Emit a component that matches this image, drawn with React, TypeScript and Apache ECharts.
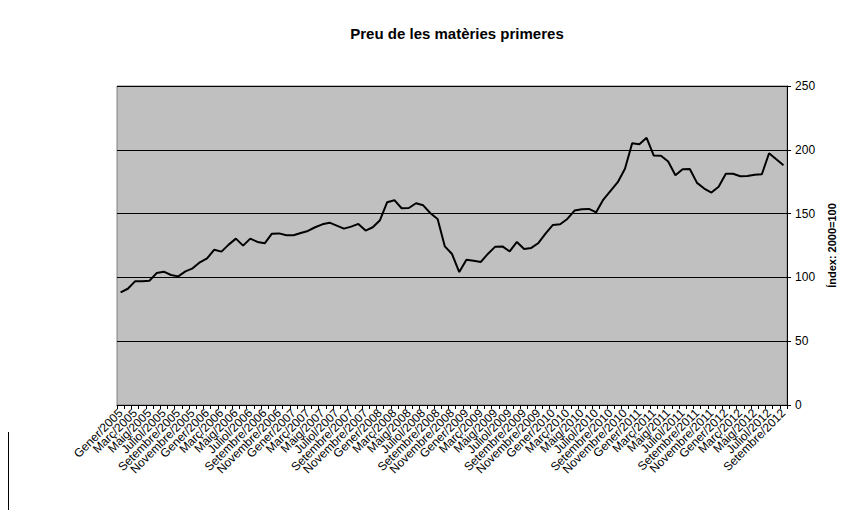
import React, { useEffect, useRef } from "react";
import * as echarts from "echarts";

const monthNames = ["Gener", "Febrer", "Març", "Abril", "Maig", "Juny", "Juliol", "Agost", "Setembre", "Octubre", "Novembre", "Desembre"];
const years = [2005, 2006, 2007, 2008, 2009, 2010, 2011, 2012];
const categories: string[] = [];
years.forEach((y) => monthNames.forEach((m, i) => {
  if (y < 2012 || i <= 8) categories.push(m + "/" + y);
}));

const values = [
  88.2, 91.1, 96.9, 96.9, 97.4, 103.4, 104.5, 101.9, 100.8, 104.7, 107.1, 111.8,
  114.9, 121.7, 120.2, 125.7, 130.4, 124.9, 130.4, 127.8, 126.7, 134.3, 134.5, 133.0,
  133.0, 134.8, 136.4, 139.3, 141.6, 142.9, 140.6, 138.2, 139.8, 141.9, 136.7, 139.3,
  144.8, 158.9, 160.5, 154.2, 154.4, 158.1, 156.5, 150.3, 145.8, 124.3, 118.3, 104.2,
  113.9, 113.1, 112.1, 118.6, 124.1, 124.3, 120.4, 127.8, 122.3, 123.1, 127.0, 134.5,
  141.1, 141.6, 145.8, 152.4, 153.4, 153.7, 151.0, 161.0, 167.8, 174.6, 185.1, 205.2,
  204.4, 209.4, 195.5, 195.3, 190.8, 180.1, 184.8, 185.0, 174.1, 169.6, 166.5, 171.0,
  181.2, 181.2, 179.3, 179.5, 180.4, 180.8, 197.3, 192.6, 187.9,
];

const yTicks = { min: 0, max: 250, interval: 50 };

const FONT = "Liberation Sans, Arial, sans-serif";

export default function App() {
  const ref = useRef<HTMLDivElement>(null);
  useEffect(() => {
    document.body.style.margin = "0";
    const chart = echarts.init(ref.current!, null, { renderer: "svg" });
    chart.setOption({
      animation: false,
      backgroundColor: "#ffffff",
      textStyle: { fontFamily: FONT },
      title: {
        text: "Preu de les matèries primeres",
        left: 452,
        top: 21,
        textAlign: "center",
        textStyle: { fontSize: 15, fontWeight: "bold", color: "#000", fontFamily: FONT },
      },
      grid: {
        left: 117,
        right: 55,
        top: 86,
        height: 319,
        show: true,
        backgroundColor: "#c0c0c0",
        borderColor: "#808080",
        borderWidth: 1,
      },
      xAxis: {
        type: "category",
        data: categories,
        boundaryGap: true,
        axisLine: { show: true, lineStyle: { color: "#000", width: 1 } },
        axisTick: { show: true, interval: 0, length: 4, lineStyle: { color: "#000" } },
        axisLabel: {
          interval: 0,
          rotate: 45,
          fontSize: 12,
          color: "#000",
          margin: 6,
          hideOverlap: false,
          fontFamily: FONT,
          formatter: (v: string, i: number) => (i % 2 === 0 ? v : ""),
        },
        splitLine: { show: false },
      },
      yAxis: {
        type: "value",
        position: "right",
        min: yTicks.min,
        max: yTicks.max,
        interval: yTicks.interval,
        name: "Índex: 2000=100",
        nameLocation: "middle",
        nameRotate: 90,
        nameGap: 25,
        nameTextStyle: { fontSize: 11, fontWeight: "bold", color: "#000", fontFamily: FONT },
        axisLine: { show: true, lineStyle: { color: "#000", width: 1 } },
        axisTick: { show: true, length: 4, lineStyle: { color: "#000" } },
        axisLabel: { fontSize: 12, color: "#000", margin: 8, fontFamily: FONT },
        splitLine: { show: true, lineStyle: { color: "#000", width: 1 } },
      },
      graphic: [
        { type: "line", shape: { x1: 8.5, y1: 432, x2: 8.5, y2: 510 }, style: { stroke: "#000", lineWidth: 1 } },
      ],
      series: [
        {
          type: "line",
          data: values,
          showSymbol: false,
          symbol: "none",
          lineStyle: { color: "#000", width: 2 },
        },
      ],
    });
    return () => chart.dispose();
  }, []);
  return <div ref={ref} style={{ width: 845, height: 510 }} />;
}
